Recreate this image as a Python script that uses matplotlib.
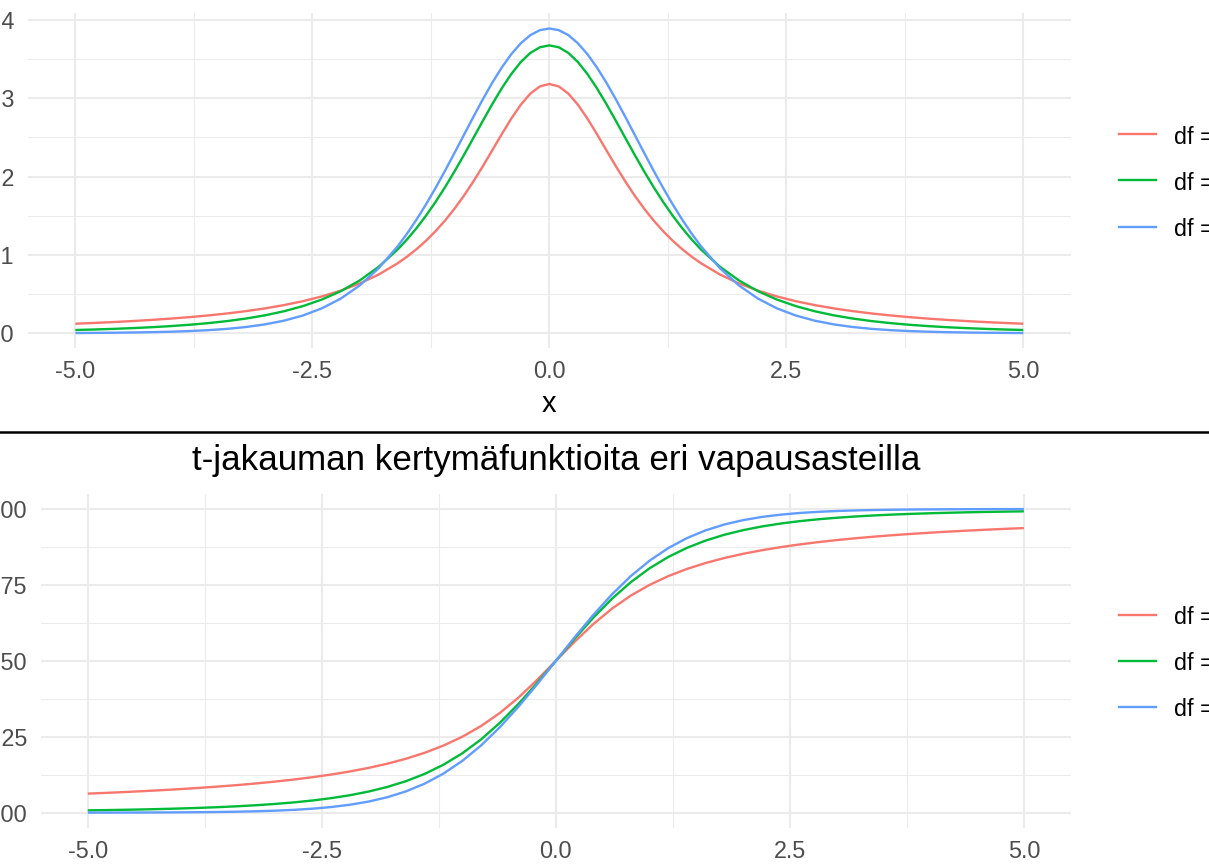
import matplotlib
matplotlib.use("Agg")
import matplotlib.pyplot as plt
from matplotlib.lines import Line2D

plt.rcParams['font.family'] = ['Liberation Sans', 'DejaVu Sans']

# ---------------- data ----------------
labels = ["df = 1", "df = 3", "df = 10"]
colors = ["#F8766D", "#00BA38", "#619CFF"]

# density curves (denser sampling around the peak)
x_pdf = [-5.0, -4.8, -4.6, -4.4, -4.2, -4.0, -3.8, -3.6, -3.4, -3.2, -3.0, -2.8, -2.6,
         -2.4, -2.2, -2.0, -1.8, -1.6,
         -1.5, -1.4, -1.3, -1.2, -1.1, -1.0, -0.9, -0.8, -0.7, -0.6, -0.5, -0.4, -0.3,
         -0.2, -0.1, 0.0, 0.1, 0.2, 0.3, 0.4, 0.5, 0.6, 0.7, 0.8, 0.9, 1.0, 1.1, 1.2,
         1.3, 1.4, 1.5,
         1.6, 1.8, 2.0, 2.2, 2.4, 2.6, 2.8, 3.0, 3.2, 3.4, 3.6, 3.8, 4.0, 4.2, 4.4,
         4.6, 4.8, 5.0]
pdf_df1 = [0.01224, 0.01324, 0.01436, 0.01563, 0.01708, 0.01872, 0.02062, 0.02280, 0.02534,
           0.02832, 0.03183, 0.03601, 0.04102, 0.04709, 0.05451, 0.06366, 0.07507, 0.08941,
           0.09794, 0.10754, 0.11833, 0.13046, 0.14403, 0.15915, 0.17586, 0.19409, 0.21363,
           0.23405, 0.25465, 0.27441, 0.29203, 0.30607, 0.31516, 0.31831, 0.31516, 0.30607,
           0.29203, 0.27441, 0.25465, 0.23405, 0.21363, 0.19409, 0.17586, 0.15915, 0.14403,
           0.13046, 0.11833, 0.10754, 0.09794,
           0.08941, 0.07507, 0.06366, 0.05451, 0.04709, 0.04102, 0.03601, 0.03183, 0.02832,
           0.02534, 0.02280, 0.02062, 0.01872, 0.01708, 0.01563, 0.01436, 0.01324, 0.01224]
pdf_df3 = [0.00422, 0.00488, 0.00567, 0.00662, 0.00777, 0.00916, 0.01088, 0.01299, 0.01560,
           0.01887, 0.02297, 0.02815, 0.03473, 0.04311, 0.05382, 0.06751, 0.08496, 0.10701,
           0.12002, 0.13446, 0.15039, 0.16780, 0.18664, 0.20675, 0.22788, 0.24967, 0.27159,
           0.29301, 0.31318, 0.33127, 0.34646, 0.35795, 0.36511, 0.36755, 0.36511, 0.35795,
           0.34646, 0.33127, 0.31318, 0.29301, 0.27159, 0.24967, 0.22788, 0.20675, 0.18664,
           0.16780, 0.15039, 0.13446, 0.12002,
           0.10701, 0.08496, 0.06751, 0.05382, 0.04311, 0.03473, 0.02815, 0.02297, 0.01887,
           0.01560, 0.01299, 0.01088, 0.00916, 0.00777, 0.00662, 0.00567, 0.00488, 0.00422]
pdf_df10 = [0.00040, 0.00054, 0.00075, 0.00104, 0.00145, 0.00203, 0.00285, 0.00402, 0.00569,
            0.00805, 0.01140, 0.01612, 0.02273, 0.03188, 0.04438, 0.06115, 0.08312, 0.11108,
            0.12745, 0.14540, 0.16485, 0.18566, 0.20761, 0.23036, 0.25353, 0.27662, 0.29909,
            0.32033, 0.33969, 0.35658, 0.37040, 0.38066, 0.38697, 0.38911, 0.38697, 0.38066,
            0.37040, 0.35658, 0.33969, 0.32033, 0.29909, 0.27662, 0.25353, 0.23036, 0.20761,
            0.18566, 0.16485, 0.14540, 0.12745,
            0.11108, 0.08312, 0.06115, 0.04438, 0.03188, 0.02273, 0.01612, 0.01140, 0.00805,
            0.00569, 0.00402, 0.00285, 0.00203, 0.00145, 0.00104, 0.00075, 0.00054, 0.00040]

# cumulative distribution curves
x_cdf = [-5.0, -4.8, -4.6, -4.4, -4.2, -4.0, -3.8, -3.6, -3.4, -3.2, -3.0, -2.8, -2.6,
         -2.4, -2.2, -2.0, -1.8, -1.6, -1.4, -1.2, -1.0, -0.8, -0.6, -0.4, -0.2, 0.0,
         0.2, 0.4, 0.6, 0.8, 1.0, 1.2, 1.4, 1.6, 1.8, 2.0, 2.2, 2.4, 2.6, 2.8, 3.0,
         3.2, 3.4, 3.6, 3.8, 4.0, 4.2, 4.4, 4.6, 4.8, 5.0]
cdf_df1 = [0.06283, 0.06538, 0.06814, 0.07113, 0.07440, 0.07798, 0.08191, 0.08624, 0.09105,
           0.09641, 0.10242, 0.10919, 0.11687, 0.12567, 0.13580, 0.14758, 0.16141, 0.17781,
           0.19743, 0.22114, 0.25000, 0.28522, 0.32798, 0.37888, 0.43717, 0.50000,
           0.56283, 0.62112, 0.67202, 0.71478, 0.75000, 0.77886, 0.80257, 0.82219, 0.83859,
           0.85242, 0.86420, 0.87433, 0.88313, 0.89081, 0.89758, 0.90359, 0.90895, 0.91376,
           0.91809, 0.92202, 0.92560, 0.92887, 0.93186, 0.93462, 0.93717]
cdf_df3 = [0.00770, 0.00860, 0.00965, 0.01088, 0.01232, 0.01400, 0.01600, 0.01838, 0.02123,
           0.02467, 0.02883, 0.03393, 0.04019, 0.04794, 0.05759, 0.06966, 0.08484, 0.10395,
           0.12800, 0.15813, 0.19550, 0.24110, 0.29540, 0.35797, 0.42714, 0.50000,
           0.57286, 0.64203, 0.70460, 0.75890, 0.80450, 0.84187, 0.87200, 0.89605, 0.91516,
           0.93034, 0.94241, 0.95206, 0.95981, 0.96607, 0.97117, 0.97533, 0.97877, 0.98162,
           0.98400, 0.98600, 0.98768, 0.98912, 0.99035, 0.99140, 0.99230]
cdf_df10 = [0.00027, 0.00036, 0.00049, 0.00067, 0.00091, 0.00126, 0.00174, 0.00242, 0.00338,
            0.00474, 0.00667, 0.00940, 0.01324, 0.01866, 0.02622, 0.03669, 0.05103, 0.07034,
            0.09588, 0.12890, 0.17045, 0.22115, 0.28093, 0.34878, 0.42274, 0.50000,
            0.57726, 0.65122, 0.71907, 0.77885, 0.82955, 0.87110, 0.90412, 0.92966, 0.94897,
            0.96331, 0.97378, 0.98134, 0.98676, 0.99060, 0.99333, 0.99526, 0.99662, 0.99758,
            0.99826, 0.99874, 0.99909, 0.99933, 0.99951, 0.99964, 0.99973]

x_ticks = [-5.0, -2.5, 0.0, 2.5, 5.0]
x_ticklabels = ["-5.0", "-2.5", "0.0", "2.5", "5.0"]
x_minor = [-3.75, -1.25, 1.25, 3.75]
pdf_ticks = [0.0, 0.1, 0.2, 0.3, 0.4]
pdf_ticklabels = ["0.0", "0.1", "0.2", "0.3", "0.4"]
pdf_minor = [0.05, 0.15, 0.25, 0.35]
cdf_ticks = [0.0, 0.25, 0.5, 0.75, 1.0]
cdf_ticklabels = ["0.00", "0.25", "0.50", "0.75", "1.00"]
cdf_minor = [0.125, 0.375, 0.625, 0.875]
title_bottom = "t-jakauman kertymäfunktioita eri vapausasteilla"

# ---------------- layout ----------------
W, H = 1209, 864
DPI = 100
fig = plt.figure(figsize=(W / DPI, H / DPI), dpi=DPI)
fig.patch.set_facecolor("white")


def fx(px):
    return px / W


def fy(py):
    return 1 - py / H


TICK_SIZE = 16.8
GRID = "#EBEBEB"
TXT = "#4D4D4D"
LW = 1.7


def style(ax, yt, ytl, ym, xpad, ypad):
    for s in ax.spines.values():
        s.set_visible(False)
    ax.set_xticks(x_ticks)
    ax.set_xticklabels(x_ticklabels)
    ax.set_xticks(x_minor, minor=True)
    ax.set_yticks(yt)
    ax.set_yticklabels(ytl)
    ax.set_yticks(ym, minor=True)
    ax.grid(True, which="major", color=GRID, lw=1.5)
    ax.grid(True, which="minor", color=GRID, lw=0.75)
    ax.set_axisbelow(True)
    ax.tick_params(which="both", length=0)
    ax.tick_params(axis="x", labelsize=TICK_SIZE, labelcolor=TXT, pad=xpad)
    ax.tick_params(axis="y", labelsize=TICK_SIZE, labelcolor=TXT, pad=ypad)
    ax.set_xlim(-5.5, 5.5)


# top panel (densities)
ax1 = fig.add_axes([fx(28), fy(348.2), (1070.7 - 28) / W, (348.2 - 13.3) / H])
style(ax1, pdf_ticks, pdf_ticklabels, pdf_minor, 8.6, 10)
ax1.set_ylim(-0.0190, 0.4085)
for ys, c in zip([pdf_df1, pdf_df3, pdf_df10], colors):
    ax1.plot(x_pdf, ys, color=c, lw=LW, solid_capstyle="butt", solid_joinstyle="round")
ax1.set_xlabel("x", fontsize=21, color="black", va="baseline")
ax1.xaxis.set_label_coords(0.5, (348.2 - 411.7) / (348.2 - 13.3))

# bottom panel (CDFs)
ax2 = fig.add_axes([fx(41), fy(827.8), (1070.7 - 41) / W, (827.8 - 493.9) / H])
style(ax2, cdf_ticks, cdf_ticklabels, cdf_minor, 8.6, 10)
ax2.set_ylim(-0.0497, 1.0497)
for ys, c in zip([cdf_df1, cdf_df3, cdf_df10], colors):
    ax2.plot(x_cdf, ys, color=c, lw=LW, solid_capstyle="butt", solid_joinstyle="round")
ax2.set_title(title_bottom, fontsize=25.2, color="black", pad=17.5)

# separator line between the two plots
fig.add_artist(Line2D([0, 1], [fy(432), fy(432)], transform=fig.transFigure,
                      color="black", lw=1.8))

# legends (cropped at the right edge)
for ys_keys in ([134.3, 180.3, 226.7], [614.7, 660.7, 707.0]):
    for yk, lab, c in zip(ys_keys, labels, colors):
        fig.add_artist(Line2D([fx(1119), fx(1156)], [fy(yk), fy(yk)],
                              transform=fig.transFigure, color=c, lw=LW))
        fig.text(fx(1174), fy(yk + 9.5), lab, fontsize=TICK_SIZE, color="black",
                 ha="left", va="baseline")

fig.savefig("out.png", dpi=DPI, facecolor="white")
